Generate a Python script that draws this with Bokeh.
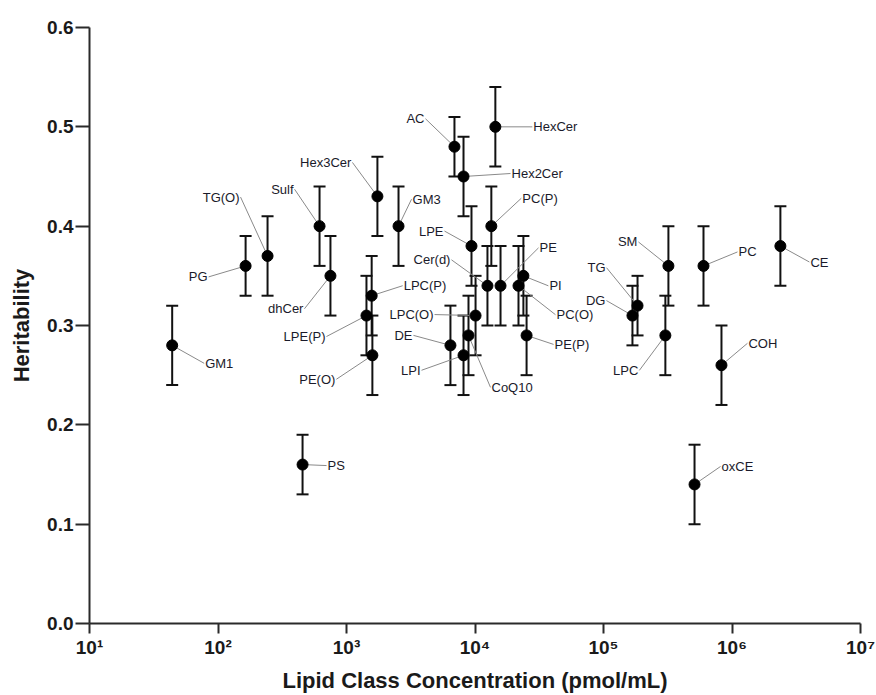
import math
from bokeh.plotting import figure
from bokeh.models import (ColumnDataSource, Range1d, FixedTicker, PrintfTickFormatter,
                          CustomJSTickFormatter, Whisker, TeeHead)
from bokeh.core.properties import value
from bokeh.embed import file_html
from bokeh.resources import INLINE

# ---------------- data ----------------
lipids = ["GM1", "PG", "TG(O)", "PS", "Sulf", "dhCer", "LPE(P)", "LPC(P)", "PE(O)",
          "Hex3Cer", "GM3", "DE", "AC", "LPI", "Hex2Cer", "CoQ10", "LPE", "LPC(O)",
          "Cer(d)", "PC(P)", "HexCer", "PE", "PC(O)", "PI", "PE(P)", "DG", "TG",
          "LPC", "SM", "oxCE", "PC", "COH", "CE"]
concentration = [44, 164, 243, 455, 617, 750, 1430, 1570, 1590,
                 1740, 2540, 6440, 6920, 8140, 8140, 8900, 9390, 10100,
                 12500, 13400, 14400, 15800, 21800, 23800, 25200, 168000, 184000,
                 303000, 320000, 511000, 600000, 828000, 2380000]
heritability = [0.28, 0.36, 0.37, 0.16, 0.40, 0.35, 0.31, 0.33, 0.27,
                0.43, 0.40, 0.28, 0.48, 0.27, 0.45, 0.29, 0.38, 0.31,
                0.34, 0.40, 0.50, 0.34, 0.34, 0.35, 0.29, 0.31, 0.32,
                0.29, 0.36, 0.14, 0.36, 0.26, 0.38]
err_low = [0.24, 0.33, 0.33, 0.13, 0.36, 0.31, 0.27, 0.29, 0.23,
           0.39, 0.36, 0.24, 0.45, 0.23, 0.41, 0.25, 0.34, 0.27,
           0.30, 0.36, 0.46, 0.30, 0.30, 0.31, 0.25, 0.28, 0.29,
           0.25, 0.32, 0.10, 0.32, 0.22, 0.34]
err_high = [0.32, 0.39, 0.41, 0.19, 0.44, 0.39, 0.35, 0.37, 0.31,
            0.47, 0.44, 0.32, 0.51, 0.31, 0.49, 0.33, 0.42, 0.35,
            0.38, 0.44, 0.54, 0.38, 0.38, 0.39, 0.33, 0.34, 0.35,
            0.33, 0.40, 0.18, 0.40, 0.30, 0.42]

x_ticks = [1e1, 1e2, 1e3, 1e4, 1e5, 1e6, 1e7]
y_ticks = [0.0, 0.1, 0.2, 0.3, 0.4, 0.5, 0.6]

# label leader-line offsets in screen pixels (dx right, dy down) and text side
label_offsets = [(32, 18, "left"), (-37, 11, "right"), (-27, -59, "right"), (24, 1, "left"),
                 (-25, -37, "right"), (-26, 33, "right"), (-40, 21, "right"), (31, -10, "left"),
                 (-36, 24, "right"), (-25, -34, "right"), (13, -27, "left"), (-37, -10, "right"),
                 (-29, -28, "right"), (-42, 15, "right"), (47, -3, "left"), (22, 52, "left"),
                 (-27, -15, "right"), (-41, -1, "right"), (-36, -26, "right"), (30, -28, "left"),
                 (37, 0, "left"), (38, -38, "left"), (37, 29, "left"), (25, 10, "left"),
                 (27, 9, "left"), (-26, -15, "right"), (-31, -38, "right"), (-26, 35, "right"),
                 (-30, -24, "right"), (26, -18, "left"), (34, -14, "left"), (26, -22, "left"),
                 (29, 16, "left")]

# ---------------- layout ----------------
W, H = 876, 695
left, right, top, bottom = 89, 16, 27, 71
frame_w = W - left - right
frame_h = H - top - bottom
px_per_decade = frame_w / (math.log10(x_ticks[-1]) - math.log10(x_ticks[0]))
px_per_unit = frame_h / (y_ticks[-1] - y_ticks[0])

lx, ly, lx_left, ly_left, lab_left, lx_right, ly_right, lab_right = [], [], [], [], [], [], [], []
for name, xv, yv, (dx, dy, side) in zip(lipids, concentration, heritability, label_offsets):
    ex = 10 ** (math.log10(xv) + dx / px_per_decade)
    ey = yv - dy / px_per_unit
    lx.append(ex)
    ly.append(ey)
    if side == "left":
        lx_left.append(ex); ly_left.append(ey); lab_left.append(name)
    else:
        lx_right.append(ex); ly_right.append(ey); lab_right.append(name)

src = ColumnDataSource(dict(x=concentration, y=heritability, lo=err_low, hi=err_high,
                            lx=lx, ly=ly, name=lipids))

p = figure(width=W, height=H, x_axis_type="log", output_backend="svg", toolbar_location=None,
           x_range=Range1d(x_ticks[0], x_ticks[-1]), y_range=Range1d(y_ticks[0], y_ticks[-1]),
           min_border_left=left, min_border_right=right, min_border_top=top,
           min_border_bottom=bottom)
p.outline_line_color = None
p.xgrid.visible = False
p.ygrid.visible = False
p.background_fill_color = "white"

FONT = "Liberation Sans"
for ax in (p.xaxis[0], p.yaxis[0]):
    ax.axis_line_width = 2
    ax.axis_line_color = "#2a2a2a"
    ax.major_tick_line_width = 2
    ax.major_tick_line_color = "#2a2a2a"
    ax.major_tick_in = 0
    ax.minor_tick_in = 0
    ax.minor_tick_out = 0
    ax.major_label_text_font = FONT
    ax.major_label_text_font_style = "bold"
    ax.major_label_text_font_size = "19px"
    ax.major_label_text_color = "#1a1a1a"
    ax.axis_label_text_font = FONT
    ax.axis_label_text_font_style = "bold"
    ax.axis_label_text_font_size = "22px"
    ax.axis_label_text_color = "#1a1a1a"

p.xaxis.ticker = FixedTicker(ticks=x_ticks, minor_ticks=[])
p.xaxis.formatter = CustomJSTickFormatter(code="""
const e = Math.round(Math.log10(tick));
const sup = ["\u2070","\u00b9","\u00b2","\u00b3","\u2074","\u2075","\u2076","\u2077","\u2078","\u2079"];
return "10" + String(e).split("").map(d => sup[parseInt(d)]).join("");
""")
p.xaxis.major_tick_out = 10
p.xaxis.major_label_standoff = 3
p.xaxis.axis_label = "Lipid Class Concentration (pmol/mL)"
p.xaxis.axis_label_standoff = 7

p.yaxis.ticker = FixedTicker(ticks=y_ticks, minor_ticks=[])
p.yaxis.formatter = PrintfTickFormatter(format="%.1f")
p.yaxis.major_tick_out = 14
p.yaxis.major_label_standoff = 2
p.yaxis.axis_label = "Heritability"
p.yaxis.axis_label_standoff = 10

# leader lines
p.segment(x0="x", y0="y", x1="lx", y1="ly", source=src, line_color="#8a8a8a", line_width=1)

# error bars
p.add_layout(Whisker(base="x", upper="hi", lower="lo", source=src, dimension="height",
                     line_width=2, line_color="#111111",
                     upper_head=TeeHead(size=12, line_width=2, line_color="#111111"),
                     lower_head=TeeHead(size=12, line_width=2, line_color="#111111")))

# points
p.scatter(x="x", y="y", source=src, marker="circle", size=11,
          fill_color="#000000", line_color="#000000")

# labels
p.text(x=lx_left, y=ly_left, text=lab_left, text_align="left", text_baseline="middle",
       x_offset=1, text_font=value(FONT), text_font_size="13px", text_color="#1a1a2a")
p.text(x=lx_right, y=ly_right, text=lab_right, text_align="right", text_baseline="middle",
       x_offset=-1, text_font=value(FONT), text_font_size="13px", text_color="#1a1a2a")

open("out.html", "w").write(file_html(p, INLINE))
